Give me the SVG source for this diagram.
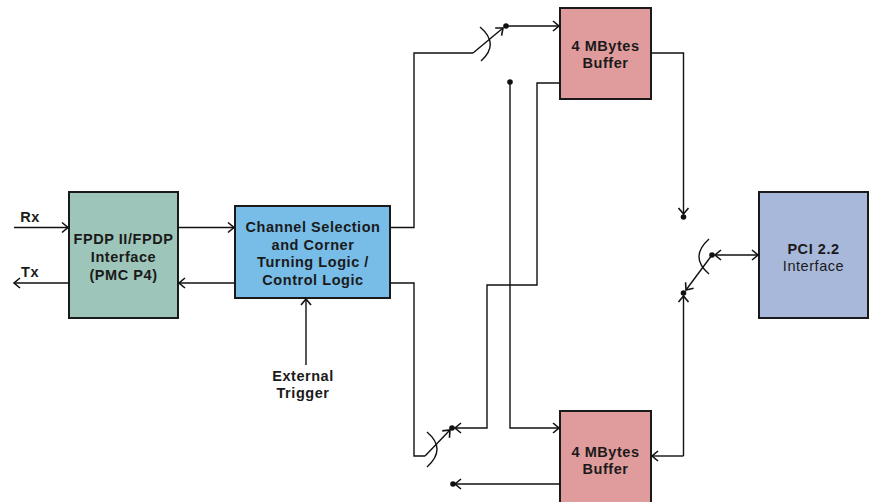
<svg xmlns="http://www.w3.org/2000/svg" width="870" height="502" viewBox="0 0 870 502">
<defs>
<marker id="ah" markerUnits="userSpaceOnUse" viewBox="-8 -7 10 14" refX="0" refY="0" markerWidth="10" markerHeight="14" orient="auto-start-reverse">
<path d="M-6,-5 L0,0 L-6,5" fill="none" stroke="#111" stroke-width="1.6"/>
</marker>
</defs>
<style>
.box{stroke:#1a1a1a;stroke-width:2}
.t{font-family:"Liberation Sans",Arial,sans-serif;font-size:14.5px;font-weight:700;letter-spacing:0.55px;fill:#1a1a1a;text-anchor:middle}
.n{font-weight:400}
.w{fill:none;stroke:#111;stroke-width:1.4}
.a{marker-end:url(#ah)}
.dot{fill:#111}
</style>
<rect width="870" height="502" fill="#fff"/>
<g id="fpdp">
<rect class="box" x="69" y="192" width="109" height="126" fill="#9dc5b9"/>
<text class="t" x="123.5" y="243.5">FPDP II/FPDP</text>
<text class="t" x="123.5" y="261.5">Interface</text>
<text class="t" x="123.5" y="279.5">(PMC P4)</text>
</g>
<g id="channel">
<rect class="box" x="235" y="206" width="155" height="92" fill="#78bde8"/>
<text class="t" x="313" y="232">Channel Selection</text>
<text class="t" x="313" y="249.5">and Corner</text>
<text class="t" x="313" y="267">Turning Logic /</text>
<text class="t" x="313" y="284.5">Control Logic</text>
</g>
<g id="buffer1">
<rect class="box" x="560" y="8" width="91" height="91" fill="#e09c9c"/>
<text class="t" x="605.5" y="51">4 MBytes</text>
<text class="t" x="605.5" y="68">Buffer</text>
</g>
<g id="buffer2">
<rect class="box" x="560" y="411" width="91" height="100" fill="#e09c9c"/>
<text class="t" x="605.5" y="457">4 MBytes</text>
<text class="t" x="605.5" y="474">Buffer</text>
</g>
<g id="pci">
<rect class="box" x="759" y="192" width="109" height="126" fill="#a8b8db"/>
<text class="t" x="813.5" y="253.5">PCI 2.2</text>
<text class="t n" x="813.5" y="270.5">Interface</text>
</g>
<g id="labels">
<text class="t" x="30" y="222">Rx</text>
<text class="t" x="30" y="277">Tx</text>
<text class="t" x="303" y="381">External</text>
<text class="t" x="303" y="398">Trigger</text>
</g>
<g id="connectors">
<path class="w a" d="M14,227.5 H68"/>
<path class="w a" d="M69,283 H14"/>
<path class="w a" d="M178,227.5 H234"/>
<path class="w a" d="M235,283 H179"/>
<path class="w a" d="M306,365 V299"/>
<path class="w" d="M390,227.5 H414 V53 H473"/>
<path class="w a" d="M473,53 L503,28"/>
<path class="w" d="M480,27 Q500,44 481,61"/>
<path class="w a" d="M506,26 H559"/>
<path class="w a" d="M510,82 V428 H559"/>
<path class="w a" d="M560,83 H537 V285 H487 V428 H455"/>
<path class="w" d="M390,283 H414 V456 H425"/>
<path class="w a" d="M425,456 L450,430"/>
<path class="w" d="M427,432 Q447,449 427,467"/>
<path class="w a" d="M560,484 H455"/>
<path class="w a" d="M651,53 H683.5 V214"/>
<path class="w a" d="M715,255 H758" style="marker-start:url(#ah)"/>
<path class="w a" d="M712,255 L686,290"/>
<path class="w" d="M709,239 Q689,257 709,274"/>
<path class="w a" d="M683.5,456 V296"/>
<path class="w a" d="M683.5,456 H652"/>
<circle class="dot" cx="506" cy="26" r="2.8"/>
<circle class="dot" cx="510" cy="82" r="2.8"/>
<circle class="dot" cx="452" cy="428" r="2.8"/>
<circle class="dot" cx="453" cy="484" r="2.8"/>
<circle class="dot" cx="683.5" cy="217" r="2.8"/>
<circle class="dot" cx="712" cy="255" r="2.8"/>
<circle class="dot" cx="683.5" cy="293" r="2.8"/>
</g>
</svg>
